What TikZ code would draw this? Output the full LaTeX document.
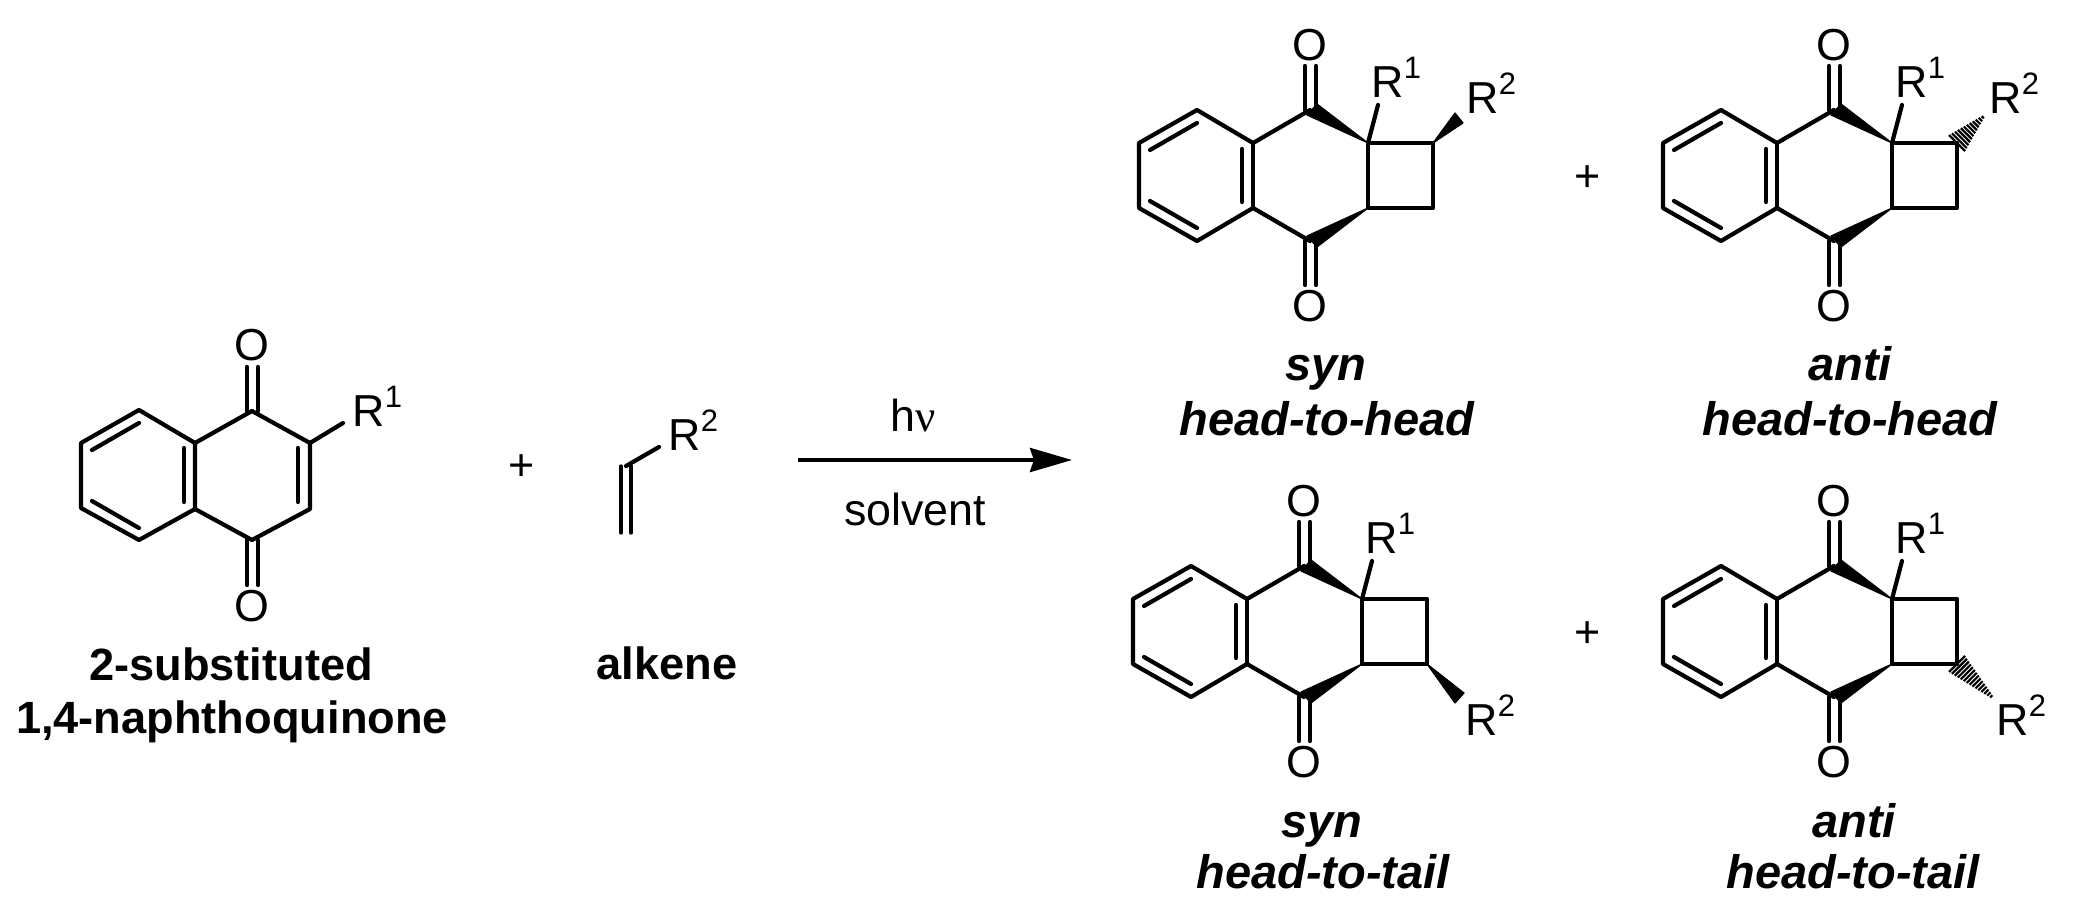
\documentclass[tikz,border=0pt]{standalone}
\usepackage{fontspec}
\setmainfont{Liberation Sans}
\newfontfamily\symfont{Liberation Serif}
\usetikzlibrary{arrows.meta,calc,positioning}
\newcommand{\rsup}[1]{\raisebox{9.5pt}{\fontsize{15.5}{15.5}\selectfont #1}}
\tikzset{
    >={Stealth[length=21pt,width=12pt,inset=2pt]},
    bond/.style={
           line width=2.1pt,
           line cap=round,
           line join=round},
    thinbond/.style={
           line width=1.6pt,
           line cap=round},
    wedgebond/.style={
           fill=black,
           draw=black,
           line width=0.6pt,
           line join=round},
    hashbond/.style={
           line width=1.1pt},
    atom/.style={
           inner sep=0pt,
           font=\fontsize{22.4}{22.4}\selectfont},
    rgroup/.style={
           atom,
           anchor=base west},
    caption/.style={
           inner sep=0pt,
           anchor=base,
           font=\fontsize{22.6}{22.6}\selectfont\bfseries},
    captionit/.style={
           caption,
           font=\fontsize{23.5}{23.5}\selectfont\bfseries\itshape},
    adduct/.pic={
        % benzo ring and the quinone carbons, origin at the upper ring fusion
        \coordinate (ja) at (0,0);
        \coordinate (jb) at (0,65);
        \coordinate (b1) at (-56,-33);
        \coordinate (b2) at (-114,0);
        \coordinate (b3) at (-114,65);
        \coordinate (b4) at (-56,98);
        \coordinate (ca) at (57,-33);
        \coordinate (cb) at (57,98);
        \coordinate (qa) at (115,0);
        \coordinate (qb) at (115,65);
        \coordinate (qc) at (180,0);
        \coordinate (qd) at (180,65);
        \coordinate (r1end) at (125,-38);
        \node[atom] (oa) at (57,-98) {O};
        \node[atom] (ob) at (57,163) {O};
        \node[rgroup] (r1) at (118,-46) {R\rsup{1}};
        \draw[bond] (ca) -- (ja) -- (b1) -- (b2) -- (b3) -- (b4) -- (jb) -- (cb);
        \draw[bond] (ja) -- (jb);
        \draw[bond] (qa) -- (qc) -- (qd) -- (qb) -- cycle;
        \draw[bond] (qa) -- (r1end);
        \draw[bond] ($(b1)+(0,13)$) -- ($(b2)+(11,7)$);
        \draw[bond] ($(b4)+(0,-13)$) -- ($(b3)+(11,-7)$);
        \draw[bond] (-11,6) -- (-11,59);
        \draw[bond] ($(ca)+(-5,0)$) -- ($(oa)+(-5,21)$);
        \draw[bond] ($(ca)+(6,0)$) -- ($(oa)+(6,21)$);
        \draw[bond] ($(cb)+(-5,0)$) -- ($(ob)+(-5,-21)$);
        \draw[bond] ($(cb)+(6,0)$) -- ($(ob)+(6,-21)$);
        \fill[wedgebond] (qa) -- ($(ca)+(7,-6)$) -- ($(ca)+(-3,5)$) -- cycle;
        \fill[wedgebond] (qb) -- ($(cb)+(7,6)$) -- ($(cb)+(-3,-5)$) -- cycle;
    }
}

\begin{document}
\begin{tikzpicture}[x=0.5pt,y=-0.5pt]
        \useasboundingbox (0,0) rectangle (2074,916);
        % naphthoquinone
        \coordinate (ja) at (195,443);
        \coordinate (jb) at (195,509);
        \coordinate (b1) at (139,410);
        \coordinate (b2) at (81,443);
        \coordinate (b3) at (81,508);
        \coordinate (b4) at (139,540);
        \coordinate (ca) at (252,411);
        \coordinate (cb) at (252,540);
        \coordinate (cc) at (310,443);
        \coordinate (cd) at (310,509);
        \coordinate (r1end) at (343,423);
        \node[atom] (oa) at (252,345) {O};
        \node[atom] (ob) at (252,606) {O};
        \node[rgroup] (r1) at (352,426) {R\rsup{1}};
        \draw[bond] (ja) -- (b1) -- (b2) -- (b3) -- (b4) -- (jb) -- cycle;
        \draw[bond] (ja) -- (ca) -- (cc) -- (cd) -- (cb) -- (jb);
        \draw[bond] (cc) -- (r1end);
        \draw[bond] (92,450) -- (139,423);
        \draw[bond] (92,501) -- (139,528);
        \draw[bond] (184,448) -- (184,502);
        \draw[bond] (298,448) -- (298,502);
        \draw[bond] ($(ca)+(-5,0)$) -- ($(oa)+(-5,22)$);
        \draw[bond] ($(ca)+(6,0)$) -- ($(oa)+(6,22)$);
        \draw[bond] ($(cb)+(-5,0)$) -- ($(ob)+(-5,-21)$);
        \draw[bond] ($(cb)+(6,0)$) -- ($(ob)+(6,-21)$);
        \node[caption] (nq1) at (231,680) {2-substituted};
        \node[caption] (nq2) at (232,733) {1,4-naphthoquinone};
        \node[atom] (plus1) at (522,468) {+};
        % alkene
        \coordinate (al1) at (626,466);
        \coordinate (al2) at (626,533);
        \coordinate (r2end) at (659,447);
        \node[rgroup] (r2) at (668,450) {R\rsup{2}};
        \draw[thinbond] ($(al1)+(-5,0)$) -- ($(al2)+(-5,0)$);
        \draw[thinbond] ($(al1)+(5,0)$) -- ($(al2)+(5,0)$);
        \draw[bond] (al1) -- (r2end);
        \node[caption] (alkene) at (667,679) {alkene};
        % reaction arrow
        \coordinate (arrL) at (798,460);
        \coordinate (arrR) at (1072,460);
        \draw[bond,->,line cap=butt] (arrL) -- (arrR);
        \node[atom,anchor=base] (hv) at (913,431) {h{\symfont ν}};
        \node[atom,anchor=base] (solvent) at (915,525) {solvent};
        % products
        \pic (syna) at (1253,143) {adduct};
        \pic (anta) at (1777,143) {adduct};
        \pic (synb) at (1247,599) {adduct};
        \pic (antb) at (1777,599) {adduct};
        \node[atom] (plus2) at (1588,179) {+};
        \node[atom] (plus3) at (1588,635) {+};
        % R2 groups
        \node[rgroup] (syna-r2) at (1466,113) {R\rsup{2}};
        \fill[wedgebond] (1433,143) -- (1455,113) -- (1463,123) -- cycle;
        \node[rgroup] (anta-r2) at (1989,113) {R\rsup{2}};
        \foreach \t in {0,0.09,...,1}
            \draw[hashbond] ($(1957,143)!\t!(1983,117)+({-7*(1-\t)-1},{-7*(1-\t)-1})$) -- ($(1957,143)!\t!(1983,117)+({7*(1-\t)+1},{7*(1-\t)+1})$);
        \node[rgroup] (synb-r2) at (1465,735) {R\rsup{2}};
        \fill[wedgebond] (1427,664) -- (1455,703) -- (1464,693) -- cycle;
        \node[rgroup] (antb-r2) at (1996,735) {R\rsup{2}};
        \foreach \t in {0,0.07,...,1}
            \draw[hashbond] ($(1957,664)!\t!(1992,697)+({7*(1-\t)+1},{-7*(1-\t)-1})$) -- ($(1957,664)!\t!(1992,697)+({-7*(1-\t)-1},{7*(1-\t)+1})$);
        % captions
        \node[captionit] (syna-a) at (1326,380) {syn};
        \node[captionit] (syna-b) at (1327,435) {head-to-head};
        \node[captionit] (anta-a) at (1850,380) {anti};
        \node[captionit] (anta-b) at (1850,435) {head-to-head};
        \node[captionit] (synb-a) at (1322,837) {syn};
        \node[captionit] (synb-b) at (1323,888) {head-to-tail};
        \node[captionit] (antb-a) at (1854,837) {anti};
        \node[captionit] (antb-b) at (1853,888) {head-to-tail};
\end{tikzpicture}
\end{document}
